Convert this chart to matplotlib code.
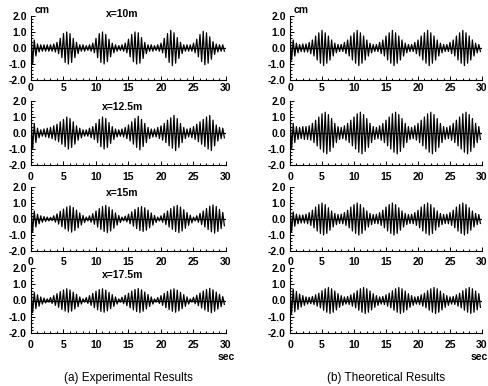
import numpy as np
import matplotlib
matplotlib.use('Agg')
from matplotlib import pyplot as plt
from matplotlib.ticker import MultipleLocator

plt.rcParams['font.family'] = ['Liberation Sans', 'DejaVu Sans']

# wave amplitude (cm) read every 0.5 s, t = 0 .. 29.5 s
dt = 0.5

# (a) experimental
exp_10 = [1.0, 0.5, 0.25, 0.2, 0.2, 0.2, 0.2, 0.25, 0.35, 0.6, 0.9, 1.0, 0.9, 0.6, 0.35,
          0.2, 0.2, 0.15, 0.2, 0.3, 0.6, 0.9, 1.0, 0.85, 0.55, 0.3, 0.2, 0.15, 0.2, 0.3,
          0.55, 0.85, 1.0, 0.95, 0.65, 0.35, 0.2, 0.2, 0.15, 0.2, 0.3, 0.6, 0.9, 1.1, 0.95,
          0.65, 0.35, 0.2, 0.2, 0.2, 0.3, 0.55, 0.85, 1.05, 0.95, 0.7, 0.4, 0.25, 0.2, 0.2]
exp_125 = [1.0, 0.6, 0.3, 0.2, 0.25, 0.3, 0.35, 0.45, 0.55, 0.7, 0.85, 1.0, 0.9, 0.7, 0.45,
           0.3, 0.2, 0.2, 0.3, 0.4, 0.6, 0.85, 1.0, 0.9, 0.65, 0.4, 0.25, 0.2, 0.25, 0.35,
           0.5, 0.7, 0.9, 1.05, 0.85, 0.6, 0.35, 0.25, 0.25, 0.35, 0.45, 0.6, 0.8, 0.95, 1.1,
           0.9, 0.6, 0.35, 0.25, 0.3, 0.4, 0.55, 0.7, 0.85, 1.0, 1.1, 0.8, 0.5, 0.35, 0.3]
exp_15 = [0.8, 0.5, 0.3, 0.2, 0.15, 0.12, 0.1, 0.2, 0.32, 0.48, 0.62, 0.75, 0.82, 0.72, 0.55,
          0.38, 0.22, 0.12, 0.2, 0.33, 0.5, 0.65, 0.78, 0.85, 0.75, 0.57, 0.38, 0.22, 0.12, 0.18,
          0.3, 0.45, 0.6, 0.72, 0.78, 0.7, 0.55, 0.38, 0.22, 0.12, 0.2, 0.35, 0.5, 0.65, 0.78,
          0.85, 0.75, 0.58, 0.4, 0.24, 0.12, 0.2, 0.35, 0.5, 0.66, 0.8, 0.88, 0.78, 0.6, 0.42]
exp_175 = [0.75, 0.5, 0.35, 0.22, 0.15, 0.1, 0.18, 0.3, 0.42, 0.55, 0.65, 0.72, 0.65, 0.52, 0.38,
           0.22, 0.1, 0.18, 0.3, 0.44, 0.57, 0.67, 0.72, 0.64, 0.5, 0.36, 0.22, 0.1, 0.2, 0.32,
           0.45, 0.58, 0.68, 0.74, 0.66, 0.52, 0.37, 0.22, 0.1, 0.18, 0.3, 0.44, 0.56, 0.66, 0.72,
           0.64, 0.5, 0.36, 0.22, 0.1, 0.2, 0.32, 0.46, 0.58, 0.68, 0.75, 0.66, 0.52, 0.38, 0.24]

# (b) theoretical
th_10 = [0.75, 0.5, 0.3, 0.22, 0.25, 0.25, 0.35, 0.5, 0.75, 0.95, 1.1, 0.95, 0.75, 0.5, 0.3,
         0.22, 0.22, 0.35, 0.5, 0.75, 0.95, 1.1, 0.95, 0.75, 0.5, 0.3, 0.22, 0.22, 0.35, 0.5,
         0.75, 0.95, 1.1, 0.95, 0.75, 0.5, 0.3, 0.22, 0.22, 0.35, 0.5, 0.75, 0.95, 1.1, 0.95,
         0.75, 0.5, 0.3, 0.22, 0.22, 0.35, 0.5, 0.75, 0.95, 1.1, 0.95, 0.75, 0.5, 0.3, 0.22]
th_125 = [1.0, 0.6, 0.4, 0.35, 0.4, 0.4, 0.45, 0.6, 0.8, 1.0, 1.2, 1.3, 1.15, 0.9, 0.6,
          0.4, 0.35, 0.45, 0.6, 0.8, 1.0, 1.2, 1.3, 1.15, 0.9, 0.6, 0.4, 0.35, 0.45, 0.6,
          0.8, 1.0, 1.2, 1.3, 1.15, 0.9, 0.6, 0.4, 0.35, 0.45, 0.6, 0.8, 1.0, 1.2, 1.3,
          1.15, 0.9, 0.6, 0.4, 0.35, 0.45, 0.6, 0.8, 1.0, 1.2, 1.3, 1.15, 0.9, 0.6, 0.4]
th_15 = [0.8, 0.45, 0.3, 0.25, 0.25, 0.3, 0.4, 0.55, 0.75, 0.9, 1.0, 0.9, 0.7, 0.5, 0.35,
         0.28, 0.3, 0.4, 0.55, 0.75, 0.9, 1.0, 0.9, 0.7, 0.5, 0.35, 0.28, 0.3, 0.4, 0.55,
         0.75, 0.9, 1.0, 0.9, 0.7, 0.5, 0.35, 0.28, 0.3, 0.4, 0.55, 0.75, 0.9, 1.0, 0.9,
         0.7, 0.5, 0.35, 0.28, 0.3, 0.4, 0.55, 0.75, 0.9, 1.0, 0.9, 0.7, 0.5, 0.35, 0.28]
th_175 = [0.8, 0.7, 0.55, 0.4, 0.3, 0.22, 0.2, 0.25, 0.35, 0.45, 0.6, 0.72, 0.8, 0.72, 0.58,
          0.42, 0.3, 0.22, 0.25, 0.35, 0.45, 0.6, 0.72, 0.8, 0.72, 0.58, 0.42, 0.3, 0.22, 0.25,
          0.35, 0.45, 0.6, 0.72, 0.8, 0.72, 0.58, 0.42, 0.3, 0.22, 0.25, 0.35, 0.45, 0.6, 0.72,
          0.8, 0.72, 0.58, 0.42, 0.3, 0.22, 0.25, 0.35, 0.45, 0.6, 0.72, 0.8, 0.72, 0.58, 0.42]

columns = [[exp_10, exp_125, exp_15, exp_175], [th_10, th_125, th_15, th_175]]
stations = ['x=10m', 'x=12.5m', 'x=15m', 'x=17.5m']
captions = ['(a) Experimental Results', '(b) Theoretical Results']

W, H = 489, 386
fig = plt.figure(figsize=(W / 100, H / 100), dpi=100)

col_x = [(31, 226), (290, 482)]
row_y = [(16, 80), (101, 165), (187, 251), (268, 333)]
xpads = [2, 5, 4.5, 5]

for c, series in enumerate(columns):
    x0, x1 = col_x[c]
    for r, amp in enumerate(series):
        y0, y1 = row_y[r]
        ax = fig.add_axes([x0 / W, 1 - y1 / H, (x1 - x0) / W, (y1 - y0) / H])
        amp = np.array(amp)
        t = np.arange(len(amp)) * dt
        tt = np.empty(2 * len(amp))
        yy = np.empty(2 * len(amp))
        tt[0::2] = t
        tt[1::2] = t + dt / 2
        yy[0::2] = amp
        yy[1::2] = -amp
        ax.plot(tt, yy, color='black', lw=0.9)
        ax.axhline(0, color='black', lw=0.9)
        ax.set_xlim(0, 30)
        ax.set_ylim(-2, 2)
        ax.spines['top'].set_visible(False)
        ax.spines['right'].set_visible(False)
        ax.xaxis.set_major_locator(MultipleLocator(5))
        ax.xaxis.set_minor_locator(MultipleLocator(1))
        ax.yaxis.set_minor_locator(MultipleLocator(0.2))
        ax.set_yticks([-2, -1, 0, 1, 2])
        ax.set_yticklabels(['-2.0', '-1.0', '0.0', '1.0', '2.0'])
        ax.tick_params(which='both', direction='in', width=0.7, labelsize=7.5)
        ax.tick_params(which='major', length=3)
        ax.tick_params(which='minor', length=1.5)
        ax.tick_params(axis='y', pad=3)
        ax.tick_params(axis='x', pad=xpads[r])
        for lab in ax.get_xticklabels() + ax.get_yticklabels():
            lab.set_fontweight('bold')
        if c == 0:
            ax.text(0.47, 1.03 if r == 0 else 0.9, stations[r], transform=ax.transAxes,
                    ha='center', va='center', fontsize=7.5, fontweight='bold')
        if r == 0:
            ax.text(0.02, 1.02, 'cm', transform=ax.transAxes, ha='left', va='bottom',
                    fontsize=7.5, fontweight='bold')
        if r == 3:
            ax.text(1.0 if c == 0 else 0.985, -0.3, 'sec', transform=ax.transAxes,
                    ha='center', va='top', fontsize=7.5, fontweight='bold')
    fig.text((x0 + x1) / 2 / W, 1 - 378 / H, captions[c], ha='center', va='center', fontsize=8.5)

fig.savefig('out.png', dpi=100)
